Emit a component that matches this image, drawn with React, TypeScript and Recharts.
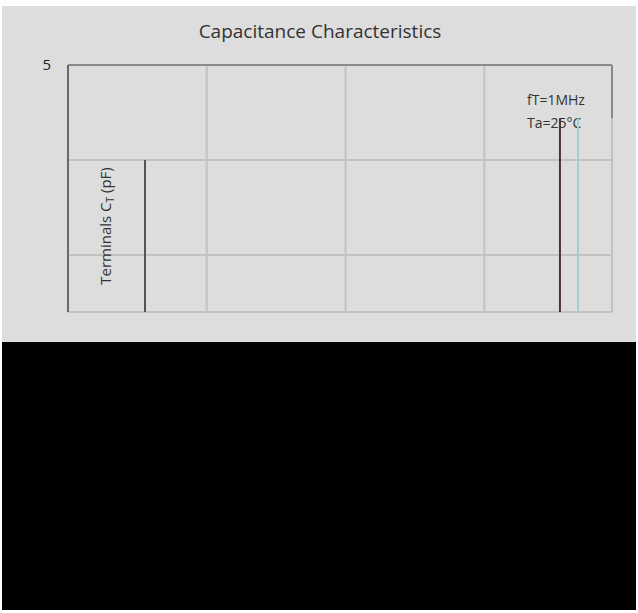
import React from 'react';
import { LineChart, Line, XAxis, YAxis, CartesianGrid, ReferenceLine } from 'recharts';

// x positions of the two visible traces, and where they start at the top
const traceX = [3.545, 3.675];
const traceTop = 4.44;
const yMin = 2.4;
const yTicks = [3, 4, 5];
const xTicks = [0, 1, 2, 3];
const xMax = 3.92;
const traceColors = ['#4a3434', '#9fd0d0'];

const traces = traceX.map((x) => [
  { x, y: traceTop },
  { x, y: yMin },
]);

const App: React.FC = () => {
  return (
    <div style={{ position: 'absolute', left: 0, top: 0, width: 638, height: 613, background: '#fff' }}>
      <div style={{ position: 'absolute', left: 2, top: 6, width: 634, height: 336, background: '#dddddd' }}>
        <LineChart width={634} height={336} margin={{ top: 59, right: 24, bottom: 30, left: 0 }}>
          <text x={318} y={32} textAnchor="middle" fontFamily="Open Sans, sans-serif" fontSize={19} fill="#333">
            Capacitance Characteristics
          </text>
          <CartesianGrid stroke="#c2c2c2" strokeWidth={2} horizontal vertical />
          <XAxis type="number" dataKey="x" domain={[0, xMax]} ticks={xTicks} hide allowDuplicatedCategory={false} />
          <YAxis
            type="number"
            dataKey="y"
            domain={[yMin, 5]}
            ticks={yTicks}
            width={66}
            tickSize={0}
            tickMargin={17}
            tickFormatter={(v) => (v === 5 ? '5' : '')}
            tick={{ fill: '#222', fontSize: 15, fontFamily: 'Open Sans, sans-serif' }}
            axisLine={{ stroke: '#6a6a6a', strokeWidth: 2 }}
          />
          <ReferenceLine y={5} stroke="#8a8a8a" strokeWidth={2} />
          <ReferenceLine segment={[{ x: xMax, y: 5 }, { x: xMax, y: traceTop }]} stroke="#8a8a8a" strokeWidth={2} />
          <ReferenceLine segment={[{ x: 0.555, y: 4 }, { x: 0.555, y: yMin }]} stroke="#555" strokeWidth={2} />
          {traces.map((d, i) => (
            <Line
              key={i}
              data={d}
              dataKey="y"
              stroke={traceColors[i]}
              strokeWidth={2}
              dot={false}
              isAnimationActive={false}
            />
          ))}
          <text x={525} y={99} fontFamily="Open Sans, sans-serif" fontSize={14} fill="#333">
            fT=1MHz
          </text>
          <text x={525} y={122} fontFamily="Open Sans, sans-serif" fontSize={14} fill="#333">
            Ta=25°C
          </text>
          <text
            transform="translate(109, 220) rotate(-90)"
            textAnchor="middle"
            fontFamily="Open Sans, sans-serif"
            fontSize={15}
            fill="#333"
          >
            Terminals C<tspan fontSize={10} dy={3}>T</tspan>
            <tspan dy={-3}> (pF)</tspan>
          </text>
        </LineChart>
      </div>
      <div style={{ position: 'absolute', left: 2, top: 342, width: 634, height: 268, background: '#000' }} />
    </div>
  );
};

export default App;
